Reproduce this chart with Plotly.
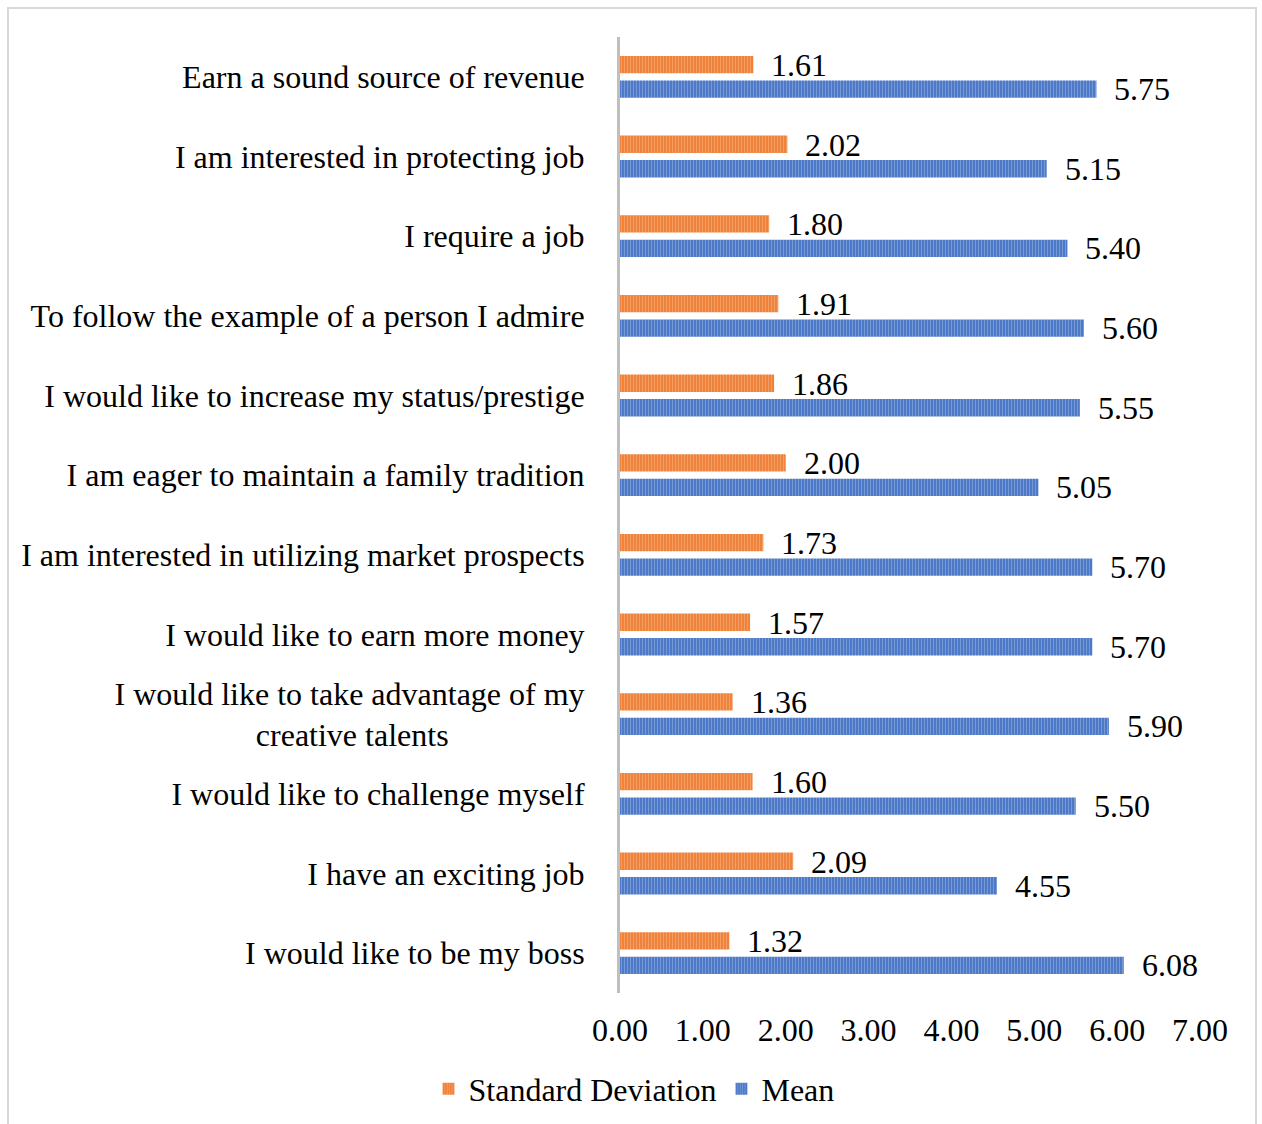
import plotly.graph_objects as go

# Survey items, listed top to bottom as displayed
categories = [
    "Earn a sound source of revenue",
    "I am interested in protecting job",
    "I require a job",
    "To follow the example of a person I admire",
    "I would like to increase my status/prestige",
    "I am eager to maintain a family tradition",
    "I am interested in utilizing market prospects",
    "I would like to earn more money",
    "I would like to take advantage of my<br>creative talents",
    "I would like to challenge myself",
    "I have an exciting job",
    "I would like to be my boss",
]
std_dev = [1.61, 2.02, 1.80, 1.91, 1.86, 2.00, 1.73, 1.57, 1.36, 1.60, 2.09, 1.32]
means = [5.75, 5.15, 5.40, 5.60, 5.55, 5.05, 5.70, 5.70, 5.90, 5.50, 4.55, 6.08]
x_ticks = [0, 1, 2, 3, 4, 5, 6, 7]

FONT = "Liberation Serif, Times New Roman, serif"
FS = 32

# Centre the second line of the two-line label under the first one
display_labels = []
for c in categories:
    if "<br>" in c:
        first, second = c.split("<br>")
        c = first + "<br>" + second + "\u00a0" * 17
    display_labels.append(c)

fig = go.Figure()
fig.add_trace(go.Bar(
    y=display_labels, x=std_dev, orientation="h", name="Standard Deviation",
    marker=dict(color="#ED7D31", line=dict(width=0),
                pattern=dict(shape="|", fgcolor="#F6BE98", bgcolor="#ED7D31",
                             size=3, solidity=0.45)),
))
fig.add_trace(go.Bar(
    y=display_labels, x=means, orientation="h", name="Mean",
    marker=dict(color="#4472C4", line=dict(width=0),
                pattern=dict(shape="|", fgcolor="#A9C0E8", bgcolor="#4472C4",
                             size=3, solidity=0.45)),
))

# Value labels next to each bar
annotations = []
for lab, sd, mu in zip(display_labels, std_dev, means):
    annotations.append(dict(x=sd, y=lab, text=f"{sd:.2f}", showarrow=False,
                            xanchor="left", yanchor="middle", xshift=16, yshift=12,
                            font=dict(family=FONT, size=FS, color="#000")))
    annotations.append(dict(x=mu, y=lab, text=f"{mu:.2f}", showarrow=False,
                            xanchor="left", yanchor="middle", xshift=16, yshift=-12,
                            font=dict(family=FONT, size=FS, color="#000")))

L, R, T, B = 620, 62, 37, 131
W, H = 1262, 1124
pw, ph = W - L - R, H - T - B

fig.update_layout(
    width=W, height=H,
    margin=dict(l=L, r=R, t=T, b=B),
    paper_bgcolor="white", plot_bgcolor="white",
    barmode="group", bargap=0.385, bargroupgap=0.29,
    font=dict(family=FONT, size=FS, color="#000"),
    annotations=annotations,
    legend=dict(orientation="h", xref="container", yref="container",
                x=634 / W, xanchor="center",
                y=1 - 1089 / H, yanchor="middle",
                font=dict(family=FONT, size=FS, color="#000"),
                itemwidth=30, traceorder="normal"),
    xaxis=dict(range=[0, 7], tickvals=x_ticks, tickformat=".2f",
               showgrid=False, zeroline=False, showline=False,
               ticks="", ticklabelstandoff=15, automargin=False,
               tickfont=dict(family=FONT, size=FS, color="#000")),
    yaxis=dict(autorange="reversed", categoryorder="array",
               categoryarray=display_labels,
               showgrid=False, zeroline=False, showline=True,
               linecolor="#BFBFBF", linewidth=3, ticks="",
               ticklabelstandoff=26, automargin=False,
               tickfont=dict(family=FONT, size=FS, color="#000")),
    shapes=[dict(type="rect", xref="paper", yref="paper",
                 x0=(8 - L) / pw, x1=(1256 - L) / pw,
                 y0=-(H + 40 - (T + ph)) / ph, y1=1 + (T - 8) / ph,
                 line=dict(color="#D9D9D9", width=2), layer="below")],
)

fig.write_html("out.html")
